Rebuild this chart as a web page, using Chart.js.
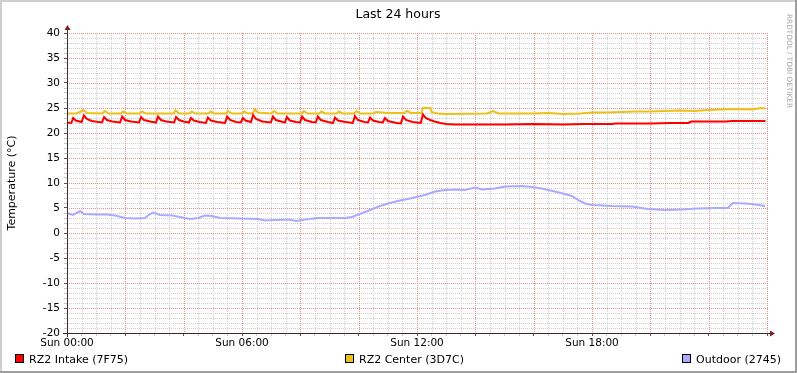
<!DOCTYPE html>
<html>
<head>
<meta charset="utf-8">
<title>Last 24 hours</title>
<script src="https://cdn.jsdelivr.net/npm/chart.js@4/dist/chart.umd.min.js"></script>
<style>
    html, body { margin: 0; padding: 0; background: #fff; }
    canvas { display: block; }
</style>
</head>
<body>
<canvas id="tempChart" width="797" height="373"></canvas>
<script>
const seriesNames = ['RZ2 Intake (7F75)', 'RZ2 Center (3D7C)', 'Outdoor (2745)'];

const intakeHours = [0, 0.15, 0.21, 0.3, 0.5, 0.58, 0.68, 0.85, 1.2, 1.27, 1.37, 1.55, 1.82, 1.89, 1.99, 2.2,
    2.47, 2.54, 2.64, 2.85, 3.05, 3.12, 3.22, 3.4, 3.67, 3.74, 3.84, 4.0, 4.18, 4.25, 4.35, 4.55,
    4.76, 4.83, 4.93, 5.15, 5.42, 5.49, 5.59, 5.8, 5.96, 6.03, 6.12, 6.31, 6.38, 6.48, 6.7,
    6.99, 7.06, 7.16, 7.4, 7.47, 7.54, 7.64, 7.85, 7.99, 8.06, 8.16, 8.4, 8.53, 8.6, 8.7, 8.95,
    9.12, 9.19, 9.29, 9.55, 9.8, 9.87, 9.97, 10.2, 10.32, 10.39, 10.49, 10.7, 10.83, 10.9, 11.0,
    11.3, 11.45, 11.52, 11.62, 11.85, 12.13, 12.2, 12.3, 12.45, 12.6, 12.8, 13.0, 13.3, 15.0,
    16.0, 17.0, 17.7, 18.7, 18.8, 19.0, 20.0, 20.7, 21.3, 21.4, 22.0, 22.6, 22.8, 23.5, 23.95];
const intakeTemps = [22.1, 22.0, 23.0, 22.5, 22.2, 23.5, 22.8, 22.4, 22.1, 23.2, 22.6, 22.3, 22.1, 23.3, 22.6, 22.3,
    22.1, 23.2, 22.6, 22.3, 22.1, 23.3, 22.6, 22.3, 22.1, 23.2, 22.6, 22.3, 22.1, 23.0, 22.5, 22.2,
    22.0, 23.1, 22.5, 22.2, 22.0, 23.3, 22.6, 22.2, 22.1, 23.0, 22.5, 22.2, 23.6, 22.8, 22.3,
    22.1, 23.3, 22.6, 22.2, 22.1, 23.2, 22.5, 22.2, 22.1, 23.3, 22.6, 22.2, 22.1, 23.3, 22.6, 22.2,
    22.0, 23.1, 22.5, 22.2, 22.0, 23.4, 22.6, 22.2, 22.1, 23.1, 22.5, 22.2, 22.1, 23.0, 22.4,
    22.0, 21.9, 23.3, 22.6, 22.2, 22.0, 23.7, 23.0, 22.6, 22.3, 22.0, 21.8, 21.7, 21.7,
    21.8, 21.7, 21.8, 21.8, 21.9, 21.9, 21.9, 22.0, 22.0, 22.3, 22.3, 22.3, 22.4, 22.4, 22.4];

const centerHours = [0, 0.3, 0.45, 0.55, 0.7, 1.2, 1.3, 1.42, 1.85, 1.92, 2.05, 2.5, 2.58, 2.7, 3.65, 3.72,
    3.85, 4.2, 4.28, 4.4, 4.85, 4.93, 5.05, 5.45, 5.52, 5.65, 6.0, 6.08, 6.2, 6.38, 6.44, 6.55,
    7.0, 7.1, 7.22, 8.05, 8.12, 8.25, 8.65, 8.72, 8.85, 9.25, 9.32, 9.45, 9.85, 9.92, 10.05,
    10.5, 10.6, 11.0, 11.55, 11.65, 11.8, 12.15, 12.2, 12.45, 12.5, 12.7, 13.0, 14.4, 14.6,
    14.8, 16.0, 16.5, 17.0, 17.6, 18.0, 18.5, 19.0, 19.5, 20.0, 21.0, 21.5, 22.0, 22.4, 23.0,
    23.5, 23.8, 23.95];
const centerTemps = [23.9, 23.9, 24.2, 24.6, 24.0, 23.9, 24.4, 23.9, 23.9, 24.3, 23.9, 23.9, 24.3, 23.9, 23.9, 24.5,
    23.9, 23.9, 24.3, 23.9, 23.9, 24.3, 23.9, 23.9, 24.4, 23.9, 23.9, 24.3, 23.9, 24.0, 24.7, 24.1,
    23.9, 24.4, 23.9, 23.9, 24.4, 23.9, 23.9, 24.3, 23.9, 23.9, 24.3, 23.9, 23.9, 24.4, 23.9,
    23.9, 24.2, 24.0, 24.0, 24.4, 24.0, 24.0, 25.0, 25.0, 24.2, 23.9, 23.8, 23.9, 24.4,
    23.9, 23.9, 24.0, 23.8, 23.9, 24.1, 24.1, 24.2, 24.3, 24.3, 24.5, 24.4, 24.6, 24.7, 24.8,
    24.7, 25.0, 24.9];

const outdoorHours = [0, 0.2, 0.45, 0.58, 0.96, 1.37, 1.65, 1.99, 2.33, 2.67, 2.85, 2.95, 3.19, 3.6, 3.87,
    4.22, 4.49, 4.73, 4.97, 5.25, 5.93, 6.55, 6.79, 7.13, 7.64, 7.85, 8.16, 8.6, 9.53, 9.77,
    10.04, 10.39, 10.73, 11.07, 11.42, 11.76, 12.27, 12.62, 12.96, 13.3, 13.64, 13.99, 14.23,
    14.67, 15.02, 15.6, 15.94, 16.28, 16.49, 16.73, 17.07, 17.31, 17.52, 17.76, 18.0, 18.68,
    19.37, 19.92, 20.5, 21.08, 21.63, 22.21, 22.66, 22.83, 23.24, 23.48, 23.83, 23.93];
const outdoorTemps = [4.0, 3.6, 4.4, 3.8, 3.7, 3.7, 3.5, 3.0, 2.9, 3.0, 3.8, 4.1, 3.6, 3.5, 3.2,
    2.8, 3.0, 3.5, 3.4, 3.0, 2.9, 2.8, 2.5, 2.6, 2.7, 2.4, 2.7, 3.0, 3.0, 3.2,
    3.8, 4.6, 5.4, 6.0, 6.5, 6.9, 7.6, 8.3, 8.6, 8.7, 8.6, 9.1, 8.7,
    8.9, 9.3, 9.4, 9.2, 8.9, 8.6, 8.3, 7.8, 7.4, 6.6, 5.9, 5.6, 5.4,
    5.3, 4.8, 4.6, 4.7, 4.9, 5.0, 5.0, 6.0, 5.9, 5.8, 5.5, 5.3];

const seriesColors = ['#FF0000', '#EAC117', '#AAAAFF'];
const xLabelHours = [0, 6, 12, 18];

const toPoints = (hours, temps) => hours.map((h, i) => ({ x: h, y: temps[i] }));

const majorGrid = '#e98f8f';
const minorGrid = '#cfcfcf';
const isMajor = (value, step) => Math.abs(value % step) < 1e-9;

// dotted rrdtool grid, placed with the chart's own scales
const rrdGrid = {
    id: 'rrdGrid',
    beforeDatasetsDraw(chart) {
        const c = chart.ctx;
        const a = chart.chartArea;
        const xs = chart.scales.x, ys = chart.scales.y;
        const top = Math.round(a.top), bottom = Math.round(a.bottom);
        const left = Math.round(a.left), right = Math.round(a.right);
        c.save();
        [false, true].forEach(major => {
            c.fillStyle = major ? majorGrid : minorGrid;
            xs.ticks.forEach(t => {
                if (isMajor(t.value, 2) !== major) return;
                const px = Math.round(xs.getPixelForValue(t.value));
                for (let py = top; py < bottom; py += 2) c.fillRect(px, py, 1, 1);
            });
            ys.ticks.forEach(t => {
                if (isMajor(t.value, 5) !== major) return;
                const py = Math.round(ys.getPixelForValue(t.value));
                for (let px = left; px <= right; px += 2) c.fillRect(px, py, 1, 1);
            });
        });
        c.restore();
    }
};

// rrdtool style frame, title, legend, axis arrows
const rrdDecor = {
    id: 'rrdDecor',
    beforeDraw(chart) {
        const c = chart.ctx;
        c.save();
        c.fillStyle = '#fff';
        c.fillRect(0, 0, chart.width, chart.height);
        c.restore();
    },
    afterDraw(chart) {
        const c = chart.ctx;
        const area = chart.chartArea;
        const w = chart.width, h = chart.height;
        c.save();

        // axes
        c.strokeStyle = '#3a2c2c';
        c.lineWidth = 1;
        c.setLineDash([]);
        c.beginPath();
        c.moveTo(area.left - 4, area.bottom + 0.5);
        c.lineTo(area.right + 4, area.bottom + 0.5);
        c.moveTo(area.left + 0.5, area.bottom + 4);
        c.lineTo(area.left + 0.5, area.top - 4);
        c.stroke();
        c.fillStyle = '#801f1f';
        c.beginPath();
        c.moveTo(area.right + 8, area.bottom + 0.5);
        c.lineTo(area.right + 3, area.bottom - 2.5);
        c.lineTo(area.right + 3, area.bottom + 3.5);
        c.closePath();
        c.fill();
        c.beginPath();
        c.moveTo(area.left + 0.5, area.top - 8);
        c.lineTo(area.left - 2.5, area.top - 3);
        c.lineTo(area.left + 3.5, area.top - 3);
        c.closePath();
        c.fill();

        // title
        c.fillStyle = '#000';
        c.font = '12.5px "DejaVu Sans"';
        c.textAlign = 'center';
        c.textBaseline = 'alphabetic';
        c.fillText('Last 24 hours', 398, 18);

        // y axis title
        c.save();
        c.translate(15, 183);
        c.rotate(-Math.PI / 2);
        c.font = '11px "DejaVu Sans"';
        c.fillText('Temperature (°C)', 0, 0);
        c.restore();

        // watermark
        c.save();
        c.translate(787, 14);
        c.rotate(Math.PI / 2);
        c.font = '7.3px "DejaVu Sans"';
        c.fillStyle = '#a8a8a8';
        c.textAlign = 'left';
        c.fillText('RRDTOOL / TOBI OETIKER', 0, 0);
        c.restore();

        // legend
        const legendX = [15, 345, 682];
        c.font = '11px "DejaVu Sans"';
        c.textAlign = 'left';
        seriesNames.forEach((name, i) => {
            const x = legendX[i];
            c.fillStyle = seriesColors[i];
            c.fillRect(x, 354, 9, 9);
            c.strokeStyle = '#000';
            c.strokeRect(x + 0.5, 354.5, 8, 8);
            c.fillStyle = '#000';
            c.fillText(name, x + 14, 363);
        });

        // 3d frame
        c.fillStyle = '#cfcfcf';
        c.fillRect(0, 0, w, 2);
        c.fillRect(0, 0, 2, h);
        c.fillStyle = '#9e9e9e';
        c.fillRect(0, h - 2, w, 2);
        c.fillRect(w - 2, 0, 2, h);
        c.restore();
    }
};

const config = {
    type: 'line',
    data: {
        datasets: seriesNames.map((name, i) => ({
            label: name,
            data: toPoints([intakeHours, centerHours, outdoorHours][i], [intakeTemps, centerTemps, outdoorTemps][i]),
            borderColor: seriesColors[i],
            borderWidth: 2,
            pointRadius: 0,
            tension: 0,
            fill: false,
        })),
    },
    options: {
        responsive: false,
        animation: false,
        layout: { padding: { top: 33, right: 30, bottom: 0, left: 0 } },
        plugins: {
            legend: { display: false },
            tooltip: { enabled: false },
        },
        scales: {
            x: {
                type: 'linear',
                min: 0,
                max: 24,
                afterFit: (scale) => { scale.height = 40; },
                ticks: {
                    stepSize: 0.5,
                    autoSkip: false,
                    maxRotation: 0,
                    padding: 1,
                    color: '#000',
                    font: { family: 'DejaVu Sans', size: 10.5 },
                    callback: (v) => xLabelHours.includes(v) ? 'Sun ' + String(v).padStart(2, '0') + ':00' : '',
                },
                grid: {
                    drawOnChartArea: false,
                    tickColor: (ctx) => ctx.tick && isMajor(ctx.tick.value, 2) ? '#6a4a4a' : '#c8c8c8',
                    tickLength: 3,
                },
                border: { display: false },
            },
            y: {
                min: -20,
                max: 40,
                afterFit: (scale) => { scale.width = 67; },
                ticks: {
                    stepSize: 1,
                    autoSkip: false,
                    padding: 4,
                    color: '#000',
                    font: { family: 'DejaVu Sans', size: 10.5 },
                    callback: (v) => v % 5 === 0 ? String(v) : '',
                },
                grid: {
                    drawOnChartArea: false,
                    tickColor: (ctx) => ctx.tick && isMajor(ctx.tick.value, 5) ? '#6a4a4a' : '#c8c8c8',
                    tickLength: 3,
                },
                border: { display: false },
            },
        },
    },
    plugins: [rrdGrid, rrdDecor],
};

new Chart(document.getElementById('tempChart'), config);
</script>
</body>
</html>
